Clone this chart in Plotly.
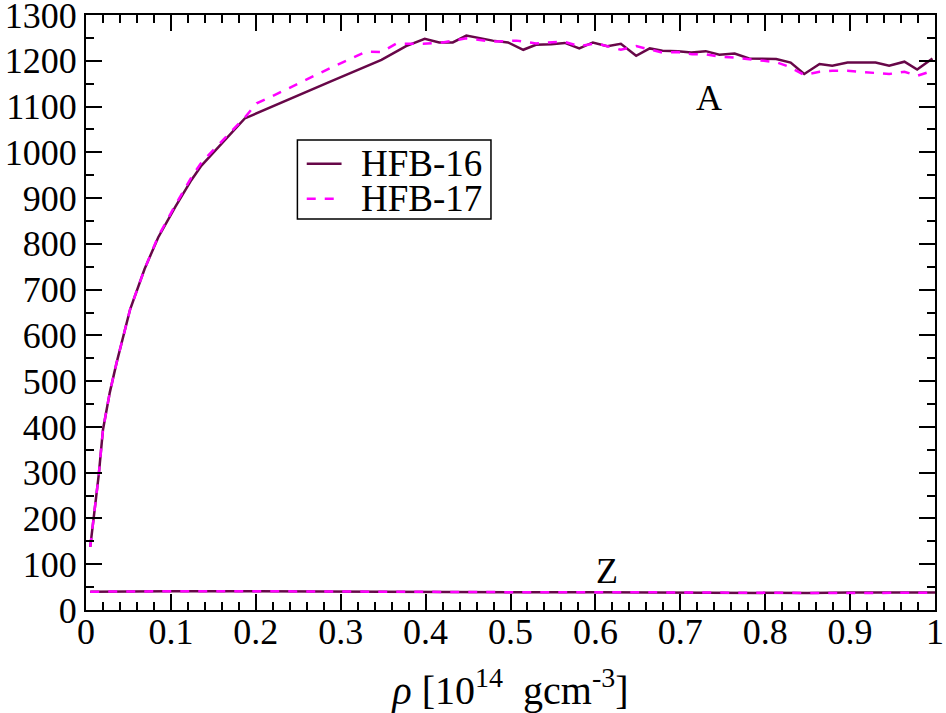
import plotly.graph_objects as go

# densities in 10^14 g/cm^3
rho_16 = [0.005, 0.009, 0.015, 0.020, 0.028, 0.036, 0.052, 0.069, 0.085, 0.105, 0.124,
          0.136, 0.160, 0.187, 0.287, 0.348, 0.377, 0.399, 0.416, 0.432, 0.448, 0.479,
          0.497, 0.515, 0.530, 0.548, 0.564, 0.581, 0.597, 0.614, 0.630, 0.648, 0.664,
          0.679, 0.697, 0.713, 0.730, 0.746, 0.764, 0.781, 0.813, 0.830, 0.846, 0.864,
          0.879, 0.897, 0.913, 0.930, 0.946, 0.964, 0.979, 0.997]
a_16 = [138, 197, 295, 394, 475, 540, 657, 745, 814, 880, 939,
        971, 1019, 1074, 1154, 1202, 1232, 1248, 1240, 1240, 1255, 1244,
        1240, 1224, 1235, 1236, 1239, 1227, 1240, 1232, 1237, 1211, 1227,
        1222, 1221, 1218, 1221, 1213, 1216, 1205, 1204, 1196, 1171, 1193,
        1189, 1196, 1196, 1196, 1189, 1198, 1181, 1205]

rho_17 = [0.005, 0.009, 0.015, 0.020, 0.028, 0.036, 0.052, 0.069, 0.085, 0.105, 0.124,
          0.136, 0.160, 0.187, 0.201, 0.222, 0.291, 0.330, 0.348, 0.365, 0.397, 0.420,
          0.448, 0.479, 0.507, 0.530, 0.562, 0.581, 0.601, 0.630, 0.648, 0.664, 0.679,
          0.697, 0.714, 0.730, 0.746, 0.764, 0.781, 0.813, 0.828, 0.846, 0.864, 0.879,
          0.897, 0.913, 0.930, 0.946, 0.964, 0.979, 0.997]
a_17 = [138, 197, 295, 394, 475, 540, 657, 745, 816, 884, 945,
        978, 1024, 1076, 1107, 1125, 1187, 1220, 1219, 1237, 1237, 1240,
        1249, 1242, 1244, 1238, 1242, 1232, 1238, 1224, 1232, 1225, 1218,
        1219, 1214, 1214, 1209, 1207, 1203, 1197, 1187, 1169, 1176, 1178,
        1178, 1176, 1173, 1171, 1176, 1167, 1178]

rho_z = [0.005, 0.05, 0.1, 0.2, 0.3, 0.4, 0.5, 0.6, 0.7, 0.8, 0.85, 0.9, 1.0]
z_16 = [40, 41, 41, 41, 40, 40, 39, 39, 38, 38, 37, 38, 38]
z_17 = [40, 41, 41, 41, 40, 40, 39, 39, 38, 38, 37, 37, 38]

labels = ['HFB-16', 'HFB-17']

maroon = '#670748'
magenta = '#ff00ff'
serif = 'Liberation Serif, Times New Roman, serif'
fs = 36

fig = go.Figure()
fig.add_trace(go.Scatter(x=rho_16, y=a_16, mode='lines', name=labels[0],
                         line=dict(color=maroon, width=2.5)))
fig.add_trace(go.Scatter(x=rho_17, y=a_17, mode='lines', name=labels[1],
                         line=dict(color=magenta, width=2.5, dash='dash')))
fig.add_trace(go.Scatter(x=rho_z, y=z_16, mode='lines',
                         line=dict(color=maroon, width=2.5)))
fig.add_trace(go.Scatter(x=rho_z, y=z_17, mode='lines',
                         line=dict(color=magenta, width=2.5, dash='dash')))

fig.add_annotation(x=0.734, y=1118, text='A', showarrow=False,
                   font=dict(family=serif, size=fs, color='black'))
fig.add_annotation(x=0.614, y=86, text='Z', showarrow=False,
                   font=dict(family=serif, size=fs, color='black'))

# hand-made legend box (xmgrace style, tight rows)
fig.add_shape(type='rect', xref='paper', yref='paper', x0=0.249, x1=0.477, y0=0.657, y1=0.790,
              line=dict(color='black', width=1.5), fillcolor='white', layer='above')
fig.add_shape(type='line', xref='paper', yref='paper', x0=0.260, x1=0.301, y0=0.750, y1=0.750,
              line=dict(color=maroon, width=2.5), layer='above')
fig.add_shape(type='line', xref='paper', yref='paper', x0=0.260, x1=0.301, y0=0.691, y1=0.691,
              line=dict(color=magenta, width=2.5, dash='dash'), layer='above')
for lab, yy in zip(labels, [0.750, 0.691]):
    fig.add_annotation(xref='paper', yref='paper', x=0.322, y=yy, text=lab, showarrow=False,
                       xanchor='left', yanchor='middle',
                       font=dict(family=serif, size=37, color='black'))

fig.update_xaxes(range=[0, 1], dtick=0.1, tickformat='~g', automargin=False,
                 showline=True, linecolor='black', linewidth=2, mirror='allticks',
                 ticks='inside', ticklen=16, tickwidth=1.5, tickcolor='black',
                 minor=dict(dtick=0.02, ticks='inside', ticklen=8, tickwidth=1.5, tickcolor='black'),
                 showgrid=False, zeroline=False, ticklabeloverflow='allow', ticklabelstandoff=-11,
                 tickfont=dict(family=serif, size=fs, color='black'),
                 title=dict(text='<i>ρ</i> [10<sup>14</sup>  gcm<sup>-3</sup>]',
                            font=dict(family=serif, size=40, color='black')))
fig.update_yaxes(range=[0, 1300], dtick=100, automargin=False,
                 showline=True, linecolor='black', linewidth=2, mirror='allticks',
                 ticks='inside', ticklen=16, tickwidth=1.5, tickcolor='black',
                 minor=dict(dtick=50, ticks='inside', ticklen=8, tickwidth=1.5, tickcolor='black'),
                 showgrid=False, zeroline=False, ticklabeloverflow='allow',
                 tickfont=dict(family=serif, size=fs, color='black'))

fig.update_layout(
    template='none',
    width=946, height=713,
    font=dict(family=serif, size=fs, color='black'),
    margin=dict(l=86, r=11, t=15, b=103),
    plot_bgcolor='white', paper_bgcolor='white',
    showlegend=False,
)

fig.write_html("out.html", config={'displayModeBar': False},
               post_script="document.body.style.margin='0px';")
